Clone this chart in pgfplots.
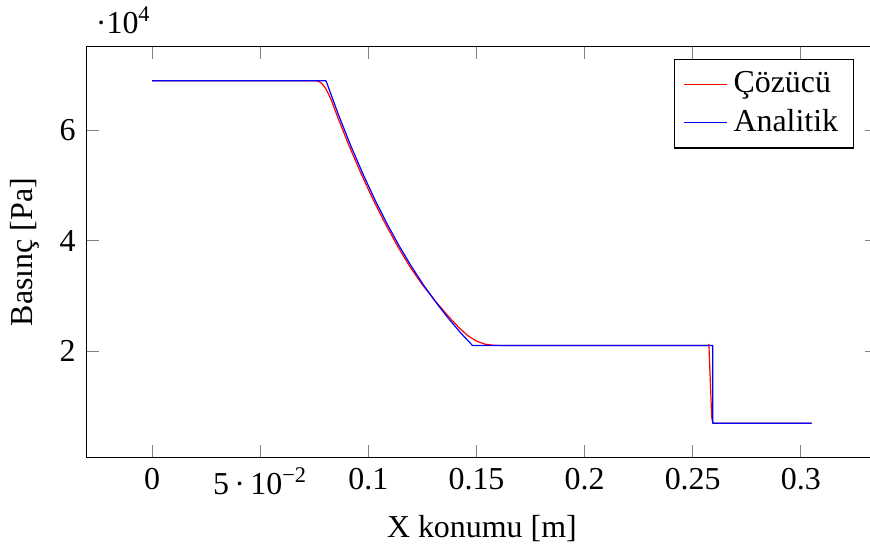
\documentclass[border=0pt]{standalone}
\usepackage{fontspec}
\setmainfont{Liberation Serif}
\usepackage{pgfplots}
\pgfplotsset{compat=1.18}
\begin{document}
\begin{tikzpicture}[font=\fontsize{10.6}{13}\selectfont]
\begin{axis}[
  scale only axis,
  width=262.7pt, height=136.4pt,
  /pgf/number format/assume math mode=true,
  xmin=-0.0305, xmax=0.3355,
  xtick={0,0.05,0.1,0.15,0.2,0.25,0.3},
  xticklabels={0,{5\,\textperiodcentered\,10\textsuperscript{−2}},0.1,0.15,0.2,0.25,0.3},
  ytick scale label code/.code={\textperiodcentered10\textsuperscript{4}},
  xlabel={X konumu [m]},
  ylabel={Basınç [Pa]},
  legend pos=north east,
  legend cell align=left,
  legend image code/.code={\draw[#1] (0cm,0cm) -- (0.5cm,0cm);},
]
\addplot[color=red, line join=round] coordinates {
(0.0000,68950) (0.0755,68950) (0.0770,68850) (0.0785,68450) (0.0800,67700)
(0.0815,66600) (0.0830,65300) (0.0852,62960) (0.0909,57320) (0.0966,52150)
(0.1022,47410) (0.1079,43000) (0.1135,39000) (0.1192,35270) (0.1250,32000)
(0.1313,28900) (0.1370,26300) (0.1420,24200) (0.1460,22800) (0.1500,21800)
(0.1540,21250) (0.1580,21050) (0.1650,21000) (0.2570,21000) (0.2575,21200)
(0.2580,16000) (0.2588,8000) (0.2593,6950) (0.3050,6950)
};
\addlegendentry{Çözücü}
\addplot[color=blue, line join=round] coordinates {
(0.0000,68950) (0.0804,68950) (0.0860,62960) (0.0917,57320) (0.0974,52150)
(0.1030,47410) (0.1087,43000) (0.1143,39000) (0.1200,35270) (0.1256,31900)
(0.1313,28800) (0.1369,25970) (0.1426,23330) (0.1482,21000) (0.2593,21000)
(0.2593,6950) (0.3050,6950)
};
\addlegendentry{Analitik}
\end{axis}
\coordinate (BBA) at ([yshift=-2pt]current bounding box.south west);
\coordinate (BBB) at ([yshift=2.2pt,xshift=-2.7pt]current bounding box.north east);
\pgfresetboundingbox
\path[use as bounding box] (BBA) rectangle (BBB);
\end{tikzpicture}
\end{document}
